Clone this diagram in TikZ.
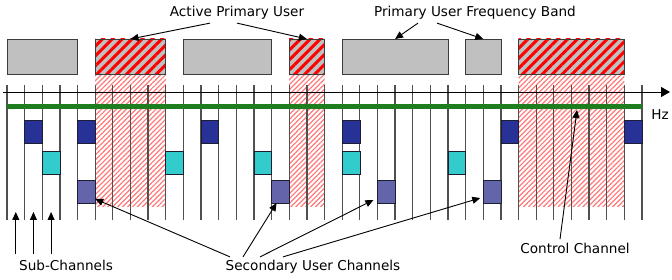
\documentclass[tikz,border=0pt]{standalone}
\usepackage{fontspec}
\setmainfont{DejaVu Sans}
\usetikzlibrary{arrows.meta,patterns.meta}

\definecolor{pugray}{RGB}{192,192,192}
\definecolor{boxline}{RGB}{60,60,60}
\definecolor{zonered}{RGB}{255,120,120}
\definecolor{chgray}{RGB}{80,80,80}
\definecolor{ctlgreen}{RGB}{30,125,30}
\definecolor{sunavy}{RGB}{40,50,150}
\definecolor{sucyan}{RGB}{51,204,204}
\definecolor{suslate}{RGB}{100,100,170}
\definecolor{blkline}{RGB}{30,30,50}

\begin{document}
\begin{tikzpicture}[
    x=1pt, y=-1pt,
    font=\fontsize{13.6}{16}\selectfont,
    callout/.style={-{Triangle[length=8pt,width=7pt]}, line width=0.9pt},
    pubox/.style={draw=boxline, line width=0.8pt, fill=pugray, anchor=north west,
                  inner sep=0pt, outer sep=0pt, minimum height=35pt},
    puact/.style={pubox, preaction={fill=pugray},
                  pattern={Lines[angle=45,distance=7pt,line width=3pt]}, pattern color=red},
    puzone/.style={anchor=north west, inner sep=0pt, outer sep=0pt, minimum height=133pt,
                   pattern={Lines[angle=45,distance=3.5pt,line width=1.2pt]}, pattern color=zonered},
    chline/.style={draw=chgray, line width=1.3pt},
    subch/.style={draw=blkline, line width=0.6pt, anchor=north west, inner sep=0pt,
                  outer sep=0pt, minimum width=17.64pt, minimum height=23pt},
]
\useasboundingbox (0,0) rectangle (672,280);

%% ---- occupied zones below the active primary users ----
\foreach \s/\n/\nm in {5/4/z1, 16/2/z2, 29/6/z3}
    \node[puzone, minimum width=\n*17.64pt] (\nm) at ({7+17.64*\s},74) {};

%% ---- sub-channel grid ----
\foreach \i in {0,...,36}
    \draw[chline] ({7+17.64*\i},85) -- ({7+17.64*\i},220);

%% ---- frequency axis and control channel ----
\node (hz) at (660,115) {Hz};
\coordinate (ax0) at (3,92);
\coordinate (ax1) at (670,92);
\draw[-{Triangle[length=9pt,width=10pt]}, line width=0.8pt] (ax0) -- (ax1);
\draw[ctlgreen, line width=5pt] (7,107) -- (642,107);
\coordinate (cc) at (577,110);

%% ---- secondary user blocks ----
\foreach \i/\nm in {1/d1, 4/d2, 11/d3, 19/d4, 28/d5, 35/d6}
    \node[subch, fill=sunavy] (\nm) at ({7+17.64*\i},120) {};
\foreach \i/\nm in {2/c1, 9/c2, 14/c3, 19/c4, 25/c5}
    \node[subch, fill=sucyan] (\nm) at ({7+17.64*\i},151) {};
\foreach \i/\nm in {4/sl1, 15/sl2, 21/sl3, 27/sl4}
    \node[subch, fill=suslate] (\nm) at ({7+17.64*\i},180) {};

%% ---- primary user frequency bands ----
\foreach \s/\n/\nm in {0/4/g1, 10/5/g2, 19/6/g3, 26/2/g4}
    \node[pubox, minimum width=\n*17.64pt] (\nm) at ({7+17.64*\s},39) {};
\foreach \s/\n/\nm in {5/4/h1, 16/2/h2, 29/6/h3}
    \node[puact, minimum width=\n*17.64pt] (\nm) at ({7+17.64*\s},39) {};

%% ---- labels ----
\node (apu)  at (237,13)  {Active Primary User};
\node (pufb) at (475,13)  {Primary User Frequency Band};
\node (sub)  at (66,265)  {Sub-Channels};
\node (suc)  at (313,267) {Secondary User Channels};
\node (ctl)  at (575,248) {Control Channel};

%% ---- callouts ----
\draw[callout] ([xshift=-27pt]apu.south) -- (h1.north);
\draw[callout] (apu.south) -- (h2.north);
\draw[callout] ([xshift=-57pt]pufb.south) -- (g3.north);
\draw[callout] ([xshift=-38pt]pufb.south) -- (g4.north);

\foreach \i in {0,1,2} {
    \coordinate (sc\i) at ({15.8+17.64*\i},212);
    \draw[callout] ([yshift=2pt]sc\i |- sub.north) -- (sc\i);
}

\draw[callout] ([xshift=-83pt]suc.north) -- ([yshift=4pt]sl1.south east);
\draw[callout] ([xshift=-70pt]suc.north) -- ([xshift=5pt]sl2.south west);
\draw[callout] ([xshift=-53pt]suc.north) -- ([xshift=-4pt,yshift=3pt]sl3.south west);
\draw[callout] ([xshift=-30pt]suc.north) -- ([xshift=-3pt,yshift=5pt]sl4.south west);

\draw[callout] ([xshift=-15pt]ctl.north) -- (cc);

\end{tikzpicture}
\end{document}
